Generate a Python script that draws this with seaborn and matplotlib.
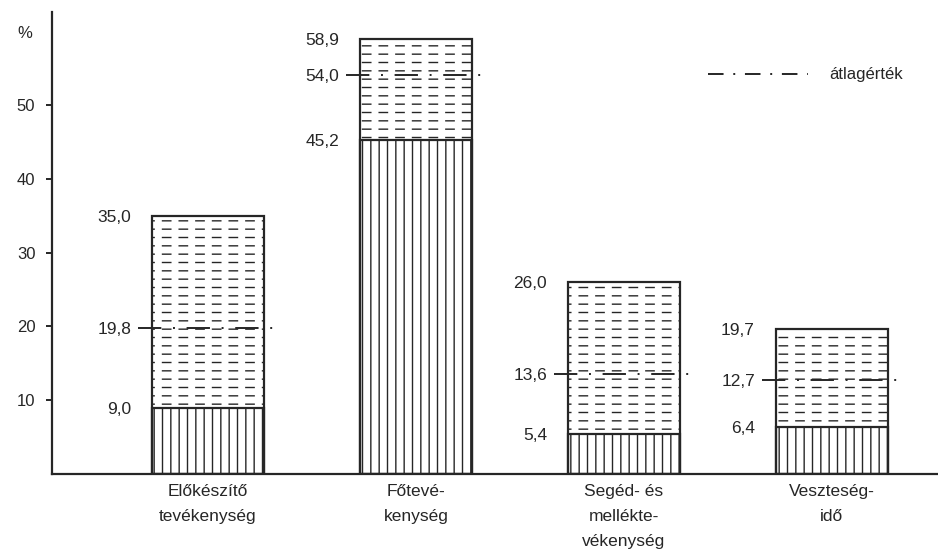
import numpy as np
import matplotlib
matplotlib.use('Agg')
import matplotlib.pyplot as plt
from matplotlib.lines import Line2D
import seaborn as sns

cats = ['Előkészítő\ntevékenység', 'Főtevé-\nkenység', 'Segéd- és\nmellékte-\nvékenység', 'Veszteség-\nidő']
min_vals = [9.0, 45.2, 5.4, 6.4]
avg_vals = [19.8, 54.0, 13.6, 12.7]
max_vals = [35.0, 58.9, 26.0, 19.7]
yticks = [10, 20, 30, 40, 50]

ink = '#262626'
sns.set_style('ticks')
plt.rcParams['font.family'] = ['Liberation Sans', 'DejaVu Sans']
plt.rcParams['text.color'] = ink
plt.rcParams['xtick.color'] = ink
plt.rcParams['ytick.color'] = ink

fig = plt.figure(figsize=(9.38, 5.51), dpi=100)
ax = fig.add_axes([52 / 938, 77 / 551, 1 - 52 / 938, 462 / 551])

w = 0.54
xs = np.arange(len(cats))

# upper part: short horizontal dashes (horizontal hatch broken by white verticals)
sns.barplot(x=cats, y=max_vals, color='white', edgecolor=ink, linewidth=0,
            hatch='--', width=w, errorbar=None, ax=ax, zorder=1)
sns.barplot(x=cats, y=max_vals, color='white', edgecolor='white', linewidth=0,
            hatch='|', width=w, errorbar=None, fill=False, ax=ax, zorder=1.5)
for p in ax.containers[1]:
    p.set_facecolor('none')
    p.set_edgecolor('white')
    if hasattr(p, 'set_hatch_linewidth'):
        p.set_hatch_linewidth(5)

# lower part: vertical lines
sns.barplot(x=cats, y=min_vals, color='white', edgecolor=ink, linewidth=1.6,
            hatch='||', width=w, errorbar=None, ax=ax, zorder=2)
# outline
sns.barplot(x=cats, y=max_vals, color=ink, edgecolor=ink, linewidth=1.6,
            width=w, errorbar=None, fill=False, ax=ax, zorder=3)
for p in ax.containers[3]:
    p.set_facecolor('none')

ext = 0.065
ax.hlines(avg_vals, xs - w / 2 - ext, xs + w / 2 + ext, colors=ink, linewidth=1.4,
          linestyles=[(0, (12, 6, 1, 6))], zorder=4)

fmt = lambda v: f'{v:.1f}'.replace('.', ',')
for x, lo, av, hi in zip(xs, min_vals, avg_vals, max_vals):
    for v in (lo, av, hi):
        ax.text(x - w / 2 - 0.1, v, fmt(v), ha='right', va='center_baseline',
                fontsize=12.5)

ax.set_xlim(-0.75, 3.51)
ax.set_ylim(0, 62.6)
ax.set_yticks(yticks)
ax.set_xlabel('')
ax.set_ylabel('')
sns.despine(ax=ax)
for s in ('left', 'bottom'):
    ax.spines[s].set_linewidth(1.6)
    ax.spines[s].set_color(ink)
ax.tick_params(axis='y', length=4, width=1.4, pad=8, labelsize=12)
ax.tick_params(axis='x', length=0, pad=7, labelsize=12.5)
for t in ax.get_xticklabels():
    t.set_linespacing(1.85)

fig.text(25 / 938, 1 - 33 / 551, '%', ha='center', va='center', fontsize=12)

avg_handle = Line2D([], [], color=ink, linewidth=1.4, linestyle=(0, (8, 5, 1, 5)))
ax.legend([avg_handle], ['átlagérték'], loc='center left',
          bbox_to_anchor=(708 / 938, 1 - 75 / 551),
          bbox_transform=fig.transFigure, frameon=False, fontsize=12,
          handlelength=6.0, handletextpad=1.3, borderpad=0, borderaxespad=0)

fig.savefig('out.png', dpi=100, facecolor='white')
